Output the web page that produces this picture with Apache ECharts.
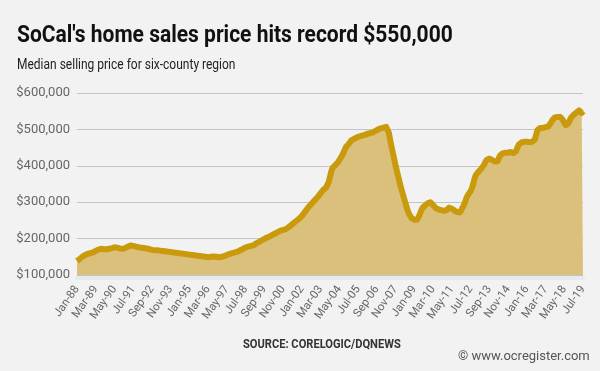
<!DOCTYPE html>
<html>
<head>
<meta charset="utf-8">
<script src="https://cdn.jsdelivr.net/npm/echarts@6/dist/echarts.min.js"></script>
<style>
html,body{margin:0;padding:0;background:#f2f2f2;}
#chart{width:600px;height:371px;}
</style>
</head>
<body>
<div id="chart"></div>
<script>
// Month names and year range used to build the category labels (Jan-88 .. Jul-19)
const MONTHS = ['Jan','Feb','Mar','Apr','May','Jun','Jul','Aug','Sep','Oct','Nov','Dec'];
const FIRST_YEAR = 1988, LAST_YEAR = 2019, LAST_MONTH_INDEX = 6;

// Median selling price, thousands of dollars, monthly
const price1988_1995 = [
  138,141,144,147,150,153,155,157,158,159,160,161,
  162,164,166,168,170,171,172,172,171,171,171,172,
  172,173,174,175,176,176,175,174,173,172,172,173,
  174,176,178,180,181,181,180,179,178,177,176,176,
  175,175,174,173,173,172,171,170,169,169,168,168,
  168,167,167,166,166,165,165,164,164,163,163,162,
  162,161,161,160,160,159,159,158,158,157,157,156,
  156,155,155,154,154,153,153,152,152,151,151,150
];
const price1996_2003 = [
  150,150,149,149,150,151,151,150,150,149,149,150,
  150,151,152,153,155,157,158,159,160,161,162,163,
  164,166,168,170,172,174,176,177,178,179,180,181,
  182,184,187,189,191,193,195,197,199,201,203,205,
  206,208,210,212,214,216,218,220,222,223,224,225,
  226,228,231,234,237,240,243,246,249,252,255,258,
  262,267,272,277,282,287,291,295,299,303,307,311,
  315,320,325,330,334,337,340,345,355,370,385,395
];
const price2004_2011 = [
  398,402,406,410,416,422,428,436,444,452,456,460,
  465,470,472,474,476,478,480,481,482,483,484,485,
  486,488,490,490,491,492,494,496,498,500,502,503,
  503,505,507,507,503,490,470,452,435,418,400,385,
  370,355,340,328,315,302,290,278,268,262,256,252,
  252,250,252,258,266,276,284,288,291,294,297,299,
  300,297,292,287,284,282,280,279,278,277,276,276,
  278,282,285,284,282,279,277,275,273,271,272,278
];
const price2012_2019 = [
  285,292,302,312,320,325,330,338,350,365,375,380,
  384,388,392,396,402,410,416,420,420,418,416,415,
  412,408,412,420,428,432,434,435,436,436,436,437,
  438,436,435,436,440,450,458,462,464,465,466,466,
  466,466,465,465,466,468,472,485,498,503,504,504,
  504,505,506,507,508,512,518,525,530,533,534,534,
  534,534,532,526,518,512,512,516,524,532,536,540,
  542,546,550,552,548,545,550
];

// Y-axis ticks (thousands of dollars)
const Y_MIN = 100, Y_MAX = 600, Y_STEP = 100;
const X_LABEL_EVERY = 14; // months between x-axis labels

const categories = [];
for (let y = FIRST_YEAR; y <= LAST_YEAR; y++) {
  const lastM = (y === LAST_YEAR) ? LAST_MONTH_INDEX : 11;
  for (let m = 0; m <= lastM; m++) {
    categories.push(MONTHS[m] + '-' + String(y).slice(2));
  }
}
const prices = price1988_1995.concat(price1996_2003, price2004_2011, price2012_2019);

const chart = echarts.init(document.getElementById('chart'), null, {renderer: 'canvas'});
chart.setOption({
  backgroundColor: '#f2f2f2',
  animation: false,
  graphic: [
    {
      type: 'text', x: 17, y: 24, scaleX: 0.875,
      style: {text: "SoCal's home sales price hits record $550,000", font: 'bold 24px Roboto', fill: '#111', textVerticalAlign: 'top'}
    },
    {
      type: 'text', x: 17, y: 58, scaleX: 0.80,
      style: {text: 'Median selling price for six-county region', font: '15px Roboto', fill: '#222', textVerticalAlign: 'top'}
    },
    {
      type: 'text', x: 243, y: 338, scaleX: 0.855,
      style: {text: 'SOURCE: CORELOGIC/DQNEWS', font: 'bold 13px Roboto', fill: '#333', textVerticalAlign: 'top'}
    },
    {
      type: 'text', x: 458, y: 350,
      style: {text: '© www.ocregister.com', font: '13px Roboto', fill: '#555', textVerticalAlign: 'top'}
    }
  ],
  grid: {left: 77, right: 17, top: 93, bottom: 96, containLabel: false},
  xAxis: {
    type: 'category',
    data: categories,
    boundaryGap: false,
    offset: 3,
    axisLine: {show: true, lineStyle: {color: '#e3ebef', width: 4}},
    axisTick: {show: false},
    axisLabel: {
      interval: X_LABEL_EVERY - 1,
      rotate: 55,
      margin: 9,
      fontFamily: 'Roboto',
      fontSize: 11.5,
      color: '#666'
    },
    splitLine: {show: false}
  },
  yAxis: {
    type: 'value',
    min: Y_MIN, max: Y_MAX, interval: Y_STEP,
    axisLine: {show: false},
    axisTick: {show: false},
    axisLabel: {
      margin: 7,
      fontFamily: 'Roboto',
      fontSize: 13,
      color: '#666',
      formatter: v => '$' + v + ',000'
    },
    splitLine: {show: true, lineStyle: {color: '#c4c4c4', width: 1}}
  },
  series: [{
    type: 'line',
    data: prices,
    showSymbol: false,
    symbol: 'none',
    smooth: false,
    lineStyle: {color: '#c99a0c', width: 6, join: 'round'},
    areaStyle: {color: '#dbc07b', opacity: 1},
    z: 3
  }]
});
</script>
</body>
</html>
